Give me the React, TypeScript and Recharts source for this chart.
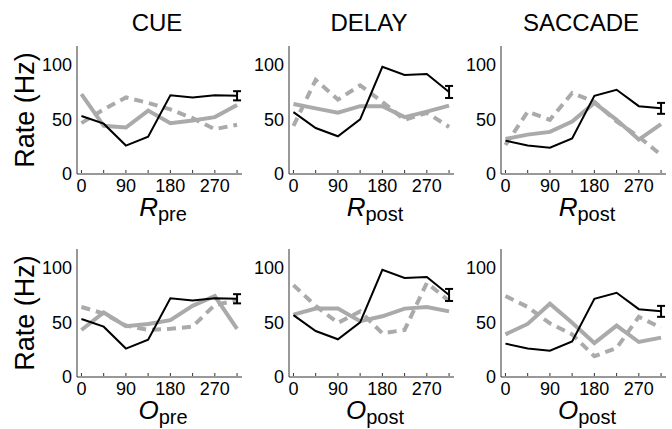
import { LineChart, Line, XAxis, YAxis, ErrorBar } from 'recharts';

const angles = [0, 45, 90, 135, 180, 225, 270, 315];
const angleLabels = [0, 90, 180, 270];
const rateTicks = [0, 50, 100];

// mean firing rate of the neuron in each epoch (black), with SEM at the end
const cueBlack = [53, 46, 26, 34, 72, 70, 72, 71.5];
const delayBlack = [56.5, 42, 34.5, 50, 98, 90.5, 91.5, 75];
const saccBlack = [30.5, 26, 24, 32.5, 71.5, 77, 62, 60];
const cueErr = 4.2;
const delayErr = 5.5;
const saccErr = 5;

// top row: R_pre / R_post fits
const cueRSolid = [73, 44, 42.5, 58, 46.5, 49, 52, 63];
const cueRDash = [46.5, 59, 70, 65, 59, 51, 41, 45];
const delayRSolid = [64, 60, 56, 62, 62, 52, 57, 62.5];
const delayRDash = [44, 86, 68, 81, 66, 49.5, 56, 43];
const saccRSolid = [32, 36, 38.5, 48, 65, 49.5, 31.5, 45.5];
const saccRDash = [26.5, 57, 49.5, 74, 66, 48, 34, 17.5];

// bottom row: O_pre / O_post fits
const cueOSolid = [43, 59, 46.5, 48.5, 52, 65, 74, 44];
const cueODash = [64, 58, 47, 43, 44, 46, 66, 70];
const delayOSolid = [57, 62.5, 62.5, 51, 55.5, 62.5, 64, 60];
const delayODash = [84, 65, 49.5, 60, 40, 43, 86, 69.5];
const saccOSolid = [39, 48.5, 67, 49.5, 31, 47, 32, 36];
const saccODash = [74, 64, 49, 39, 19, 26.5, 55, 45];

const titles = ['CUE', 'DELAY', 'SACCADE'];

const GRAY = '#aaaaaa';
const AXIS = '#333333';
const FONT = '"Liberation Sans", Arial, Helvetica, sans-serif';

function buildRows(black: number[], err: number, solid: number[], dash: number[]) {
  return angles.map((a, i) => ({
    angle: a,
    black: black[i],
    solid: solid[i],
    dash: dash[i],
    err: i === angles.length - 1 ? err : undefined,
  }));
}

const XTick = (props: any) => {
  const { x, y, payload } = props;
  const v = payload.value;
  return (
    <g>
      <line x1={x} x2={x} y1={y - 6} y2={y - 9} stroke={AXIS} strokeWidth={1} />
      {angleLabels.includes(v) && (
        <text x={x} y={y} dy="0.71em" textAnchor="middle" fontSize={18} fill="#000">
          {v}
        </text>
      )}
    </g>
  );
};

function Panel({ left, top, data }: { left: number; top: number; data: any[] }) {
  return (
    <div style={{ position: 'absolute', left, top }}>
      <LineChart width={215} height={170} data={data} margin={{ top: 10, right: 5, bottom: 0, left: 0 }}>
        <XAxis
          dataKey="angle"
          type="number"
          domain={[-9, 325]}
          allowDataOverflow
          ticks={angles}
          interval={0}
          height={32}
          tickSize={0}
          tickMargin={5}
          tick={<XTick />}
          axisLine={{ stroke: AXIS }}
        />
        <YAxis
          type="number"
          domain={[0, 117]}
          allowDataOverflow
          ticks={rateTicks}
          width={45}
          tickSize={0}
          tickMargin={5}
          tick={{ fill: '#000', fontSize: 18 }}
          axisLine={{ stroke: AXIS }}
        />
        <Line
          dataKey="dash"
          stroke={GRAY}
          strokeWidth={4}
          strokeDasharray="9 6"
          dot={false}
          isAnimationActive={false}
        />
        <Line dataKey="solid" stroke={GRAY} strokeWidth={4} dot={false} isAnimationActive={false} />
        <Line dataKey="black" stroke="#000" strokeWidth={2} dot={false} isAnimationActive={false}>
          <ErrorBar dataKey="err" width={4} stroke="#000" strokeWidth={2} direction="y" />
        </Line>
      </LineChart>
    </div>
  );
}

const panelLefts = [32, 244, 456];
const rowTops = [36, 239];

export default function App() {
  const topRow = [
    buildRows(cueBlack, cueErr, cueRSolid, cueRDash),
    buildRows(delayBlack, delayErr, delayRSolid, delayRDash),
    buildRows(saccBlack, saccErr, saccRSolid, saccRDash),
  ];
  const bottomRow = [
    buildRows(cueBlack, cueErr, cueOSolid, cueODash),
    buildRows(delayBlack, delayErr, delayOSolid, delayODash),
    buildRows(saccBlack, saccErr, saccOSolid, saccODash),
  ];
  const xLabels = [
    [
      ['R', 'pre'],
      ['R', 'post'],
      ['R', 'post'],
    ],
    [
      ['O', 'pre'],
      ['O', 'post'],
      ['O', 'post'],
    ],
  ];

  return (
    <div
      style={{
        position: 'relative',
        width: 672,
        height: 429,
        background: '#fff',
        fontFamily: FONT,
        overflow: 'hidden',
      }}
    >
      <style>{'body{margin:0}'}</style>
      {topRow.map((d, i) => (
        <Panel key={`t${i}`} left={panelLefts[i]} top={rowTops[0]} data={d} />
      ))}
      {bottomRow.map((d, i) => (
        <Panel key={`b${i}`} left={panelLefts[i]} top={rowTops[1]} data={d} />
      ))}
      <svg
        width={672}
        height={429}
        style={{ position: 'absolute', left: 0, top: 0, pointerEvents: 'none' }}
        fontFamily={FONT}
      >
        {titles.map((t, i) => (
          <text
            key={t}
            x={panelLefts[i] + 45 + 80}
            y={22}
            textAnchor="middle"
            dominantBaseline="central"
            fontSize={24}
            fill="#000"
          >
            {t}
          </text>
        ))}
        {rowTops.map((rt, r) => (
          <text
            key={`yl${r}`}
            transform={`translate(25, ${rt + 10 + 64}) rotate(-90)`}
            textAnchor="middle"
            dominantBaseline="central"
            fontSize={27}
            fill="#000"
          >
            Rate (Hz)
          </text>
        ))}
        {xLabels.map((row, r) =>
          row.map(([main, sub], i) => (
            <text
              key={`xl${r}${i}`}
              x={panelLefts[i] + 45 + 86}
              y={rowTops[r] + 10 + 128 + 42}
              textAnchor="middle"
              fill="#000"
            >
              <tspan fontStyle="italic" fontSize={26}>
                {main}
              </tspan>
              <tspan fontSize={20} dy={5}>
                {sub}
              </tspan>
            </text>
          ))
        )}
      </svg>
    </div>
  );
}
